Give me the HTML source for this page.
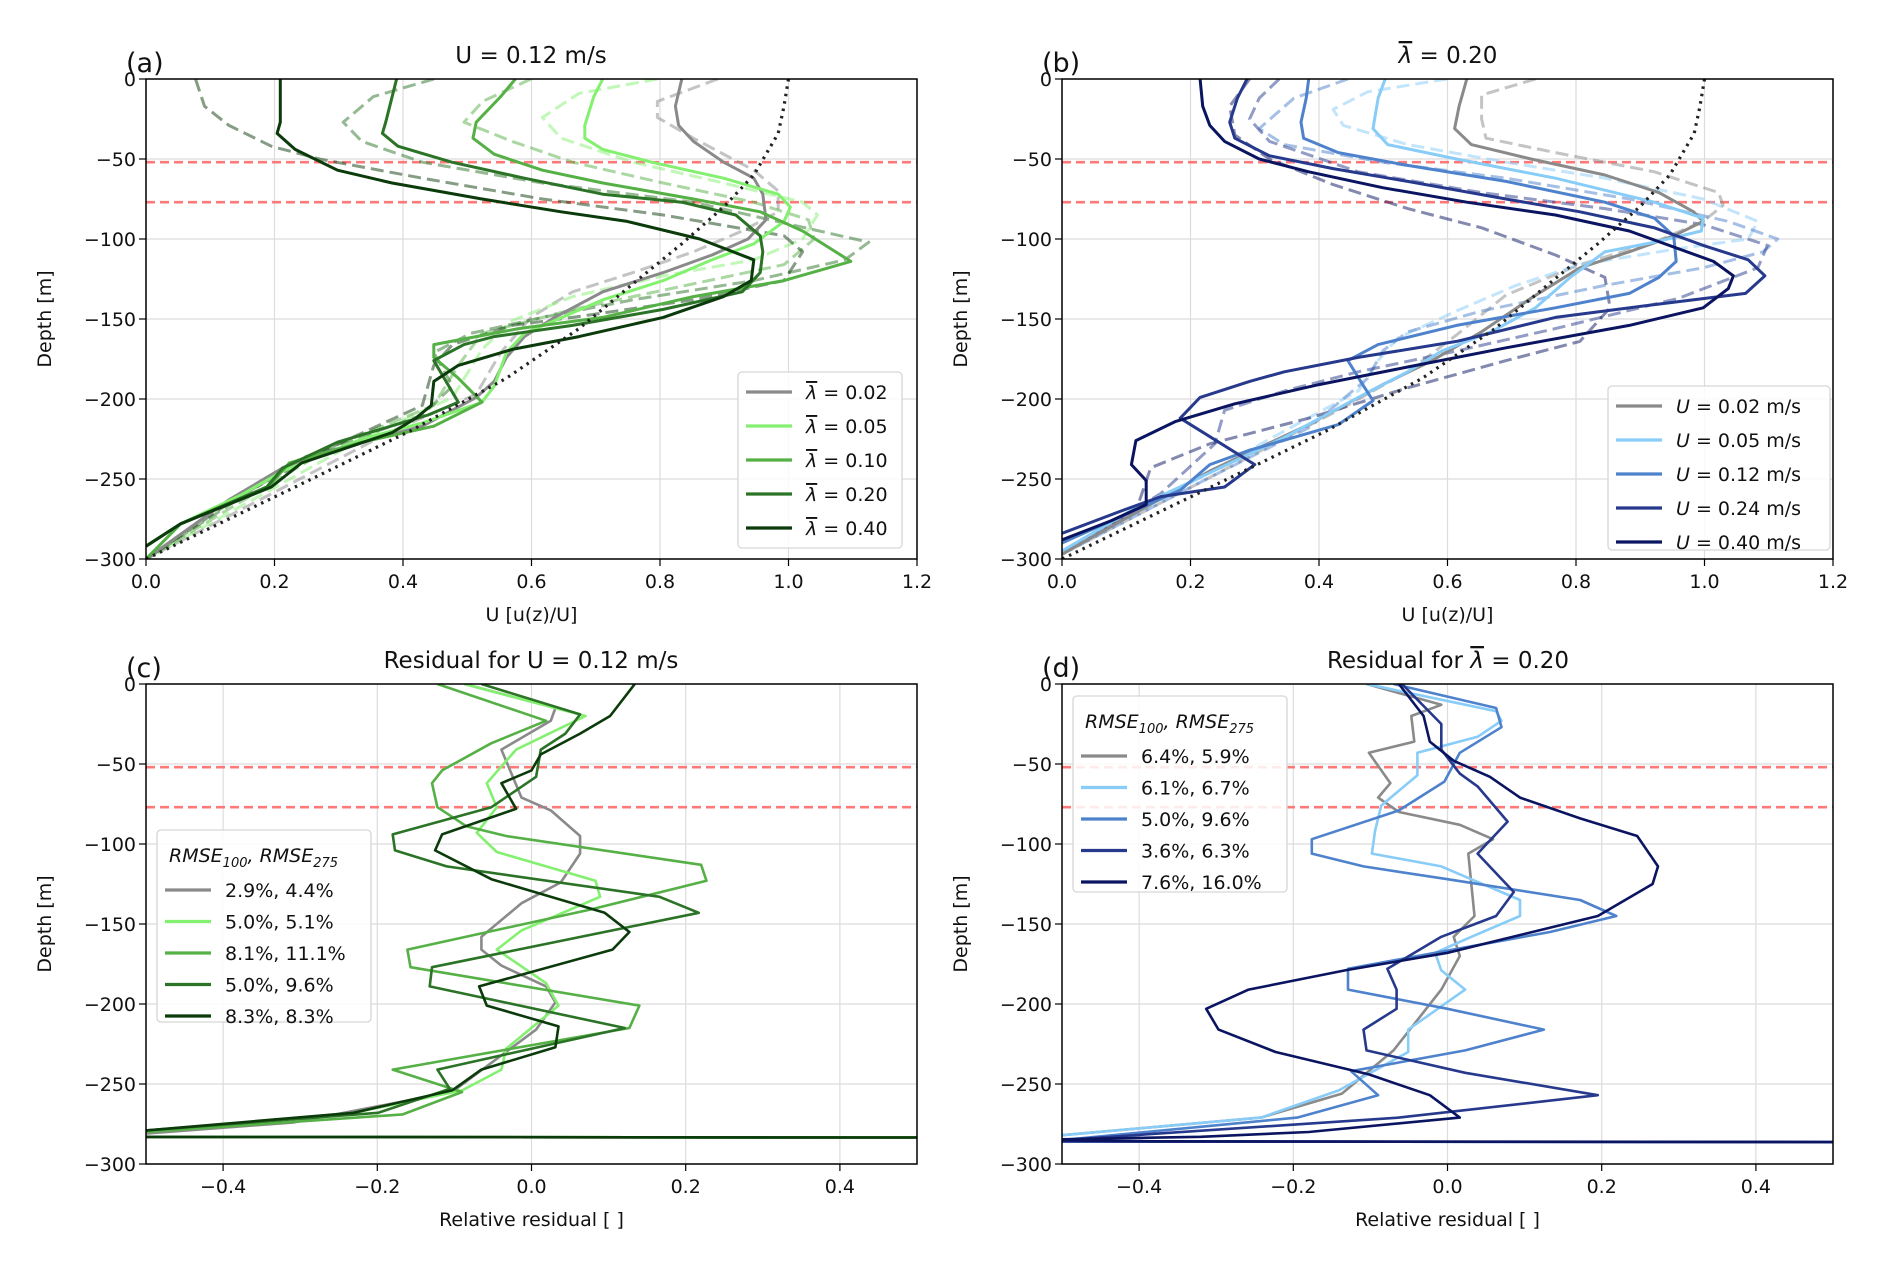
<!DOCTYPE html>
<html><head><meta charset="utf-8"><style>
html,body{margin:0;padding:0;background:#fff;}
svg{display:block;font-family:"DejaVu Sans","Liberation Sans",sans-serif;}
</style></head><body>
<svg id="fig" width="1892" height="1274" viewBox="0 0 1892 1274"></svg>
<script>
// ---------- DATA ----------
const aLabels = ["0.02","0.05","0.10","0.20","0.40"];
const aSolid002 = [[0.834,0],[0.824,-17],[0.829,-29],[0.852,-39],[0.899,-52],[0.946,-62],[0.96,-72],[0.965,-88],[0.937,-100],[0.881,-110],[0.805,-121],[0.711,-133],[0.636,-149],[0.589,-161],[0.561,-174],[0.542,-189],[0.514,-199],[0.43,-217],[0.289,-232],[0.213,-243],[0.129,-263],[0,-300]];
const aSolid005 = [[0.711,0],[0.697,-11],[0.683,-29],[0.683,-37],[0.711,-44],[0.787,-52],[0.899,-62],[0.984,-72],[1.003,-80],[0.993,-89],[0.946,-103],[0.881,-113],[0.805,-126],[0.711,-138],[0.636,-151],[0.589,-159],[0.561,-171],[0.542,-192],[0.523,-202],[0.43,-215],[0.336,-225],[0.213,-245],[0.148,-260],[0.054,-278],[0,-292]];
const aSolid010 = [[0.575,0],[0.552,-11],[0.514,-27],[0.509,-37],[0.542,-47],[0.617,-57],[0.711,-65],[0.852,-75],[0.956,-83],[1.022,-95],[1.097,-114],[0.993,-126],[0.852,-136],[0.711,-149],[0.58,-156],[0.448,-166],[0.448,-174],[0.486,-187],[0.523,-202],[0.448,-217],[0.336,-227],[0.223,-240],[0.19,-255],[0.054,-278],[0,-300]];
const aSolid020 = [[0.39,0],[0.373,-27],[0.368,-34],[0.392,-42],[0.476,-52],[0.589,-62],[0.711,-72],[0.834,-77],[0.918,-85],[0.956,-98],[0.96,-108],[0.956,-121],[0.928,-133],[0.805,-144],[0.664,-154],[0.542,-161],[0.495,-166],[0.448,-176],[0.486,-202],[0.439,-210],[0.298,-227],[0.213,-243],[0.188,-255],[0.054,-278],[0,-292]];
const aSolid040 = [[0.209,0],[0.209,-27],[0.204,-34],[0.232,-44],[0.298,-57],[0.383,-65],[0.523,-75],[0.646,-83],[0.749,-89],[0.862,-100],[0.946,-113],[0.942,-126],[0.899,-136],[0.805,-149],[0.674,-161],[0.57,-169],[0.486,-179],[0.448,-189],[0.444,-204],[0.42,-212],[0.383,-221],[0.242,-240],[0.195,-255],[0.054,-278],[0,-292]];
const aDash002 = [[0.89,0],[0.796,-14],[0.796,-24],[0.852,-37],[0.946,-57],[0.984,-70],[0.984,-83],[0.928,-95],[0.852,-108],[0.758,-121],[0.664,-133],[0.599,-149],[0.552,-171],[0.514,-197],[0.383,-220],[0,-300]];
const aDash005 = [[0.796,0],[0.674,-9],[0.617,-24],[0.646,-37],[0.758,-52],[0.899,-65],[1.022,-77],[1.045,-85],[1.022,-100],[0.946,-113],[0.805,-123],[0.664,-136],[0.57,-151],[0.523,-169],[0.477,-199],[0.336,-225],[0,-300]];
const aDash010 = [[0.599,0],[0.524,-14],[0.495,-27],[0.57,-39],[0.664,-52],[0.805,-65],[0.946,-77],[1.031,-88],[1.04,-100],[0.993,-116],[0.852,-128],[0.664,-144],[0.523,-159],[0.486,-179],[0.448,-204],[0.289,-230],[0,-300]];
const aDash020 = [[0.448,0],[0.354,-11],[0.307,-27],[0.336,-39],[0.43,-52],[0.617,-65],[0.852,-77],[0.993,-90],[1.125,-102],[1.088,-113],[0.946,-126],[0.758,-138],[0.617,-149],[0.505,-159],[0.448,-171],[0.477,-192],[0.43,-210],[0.242,-237],[0,-300]];
const aDash040 = [[0.077,0],[0.091,-17],[0.129,-29],[0.195,-42],[0.27,-50],[0.43,-62],[0.617,-75],[0.805,-85],[0.993,-98],[1.022,-108],[0.993,-126],[0.852,-138],[0.664,-149],[0.57,-154],[0.477,-166],[0.448,-179],[0.43,-204],[0.289,-230],[0.148,-260],[0,-300]];
const theory = [[1.0,0],[0.993,-17],[0.984,-34],[0.946,-60],[0.899,-80],[0.834,-103],[0.758,-128],[0.674,-156],[0.561,-187],[0.411,-220],[0.232,-255],[0,-300]];

const bLabels = ["0.02","0.05","0.12","0.24","0.40"];
const bSolid002 = [[0.63,0],[0.618,-17],[0.611,-31],[0.637,-41],[0.73,-50],[0.845,-60],[0.929,-71],[0.983,-83],[0.998,-89],[0.952,-98],[0.883,-108],[0.806,-118],[0.73,-137],[0.653,-158],[0.576,-176],[0.499,-191],[0.384,-216],[0.23,-245],[0,-297]];
const bSolid005 = [[0.503,0],[0.492,-12],[0.484,-31],[0.507,-41],[0.614,-50],[0.768,-62],[0.922,-77],[0.998,-87],[0.995,-95],[0.922,-102],[0.845,-108],[0.791,-124],[0.737,-143],[0.668,-158],[0.591,-170],[0.538,-183],[0.461,-199],[0.346,-224],[0.215,-249],[0.115,-268],[0,-295]];
const bSolid012 = [[0.384,0],[0.38,-12],[0.372,-27],[0.376,-37],[0.43,-46],[0.538,-54],[0.691,-64],[0.845,-77],[0.922,-87],[0.952,-98],[0.956,-114],[0.929,-124],[0.883,-134],[0.768,-143],[0.614,-154],[0.492,-166],[0.445,-176],[0.468,-191],[0.484,-201],[0.43,-216],[0.292,-232],[0.23,-241],[0.184,-257],[0.077,-276],[0,-290]];
const bSolid024 = [[0.288,0],[0.273,-12],[0.261,-27],[0.269,-37],[0.323,-48],[0.422,-56],[0.538,-64],[0.691,-75],[0.806,-83],[0.922,-93],[0.998,-104],[1.068,-113],[1.094,-123],[1.064,-134],[0.922,-141],[0.768,-149],[0.614,-164],[0.461,-174],[0.346,-183],[0.292,-189],[0.215,-199],[0.184,-212],[0.3,-241],[0.253,-255],[0.154,-261],[0.092,-270],[0,-284]];
const bSolid040 = [[0.215,0],[0.219,-17],[0.23,-29],[0.253,-39],[0.307,-50],[0.384,-58],[0.5,-68],[0.63,-77],[0.768,-85],[0.883,-95],[1.014,-114],[1.045,-123],[1.037,-131],[0.998,-143],[0.883,-154],[0.691,-168],[0.538,-180],[0.4,-191],[0.269,-203],[0.177,-214],[0.115,-226],[0.108,-241],[0.131,-251],[0.131,-266],[0.077,-276],[0,-288]];
const bDash002 = [[0.737,0],[0.653,-10],[0.653,-25],[0.66,-37],[0.768,-46],[0.922,-58],[1.022,-71],[1.029,-79],[0.998,-89],[0.922,-102],[0.806,-116],[0.691,-135],[0.614,-160],[0.538,-183],[0.43,-207],[0.23,-249],[0,-297]];
const bDash005 = [[0.599,0],[0.476,-8],[0.422,-19],[0.438,-29],[0.538,-41],[0.691,-52],[0.845,-62],[0.998,-75],[1.083,-89],[1.068,-100],[0.96,-106],[0.806,-116],[0.707,-129],[0.614,-145],[0.522,-162],[0.492,-176],[0.461,-195],[0.346,-220],[0,-297]];
const bDash012 = [[0.445,0],[0.361,-12],[0.307,-31],[0.346,-41],[0.499,-52],[0.691,-62],[0.883,-75],[1.037,-89],[1.114,-100],[1.091,-108],[0.998,-118],[0.845,-129],[0.653,-145],[0.538,-158],[0.499,-170],[0.476,-187],[0.384,-218],[0.23,-249],[0,-297]];
const bDash024 = [[0.338,0],[0.307,-12],[0.292,-25],[0.323,-39],[0.461,-58],[0.653,-71],[0.845,-81],[0.998,-91],[1.098,-104],[1.083,-118],[0.96,-137],[0.768,-156],[0.614,-170],[0.461,-183],[0.346,-195],[0.253,-207],[0.238,-228],[0.154,-259],[0,-297]];
const bDash040 = [[0.292,0],[0.261,-17],[0.269,-35],[0.323,-50],[0.422,-66],[0.538,-81],[0.653,-93],[0.768,-110],[0.845,-124],[0.853,-143],[0.806,-164],[0.691,-176],[0.538,-193],[0.384,-212],[0.23,-228],[0.138,-243],[0.115,-270],[0,-297]];

const cLabels = ["2.9%, 4.4%","5.0%, 5.1%","8.1%, 11.1%","5.0%, 9.6%","8.3%, 8.3%"];
const cRes002 = [[-0.087,0],[0.031,-15],[0.025,-23],[-0.039,-41],[-0.013,-71],[0.025,-79],[0.063,-95],[0.063,-106],[0.038,-124],[-0.013,-137],[-0.065,-158],[-0.065,-166],[-0.039,-176],[0.019,-189],[0.031,-199],[0.006,-216],[-0.103,-255],[-0.308,-274],[-0.5,-281],[-0.7,-283],[2.0,-284]];
const cRes005 = [[-0.087,0],[0.07,-20],[-0.02,-41],[-0.058,-62],[-0.045,-77],[-0.071,-93],[-0.045,-105],[0.083,-123],[0.089,-133],[-0.013,-154],[-0.045,-166],[0.019,-187],[0.035,-201],[-0.033,-228],[-0.039,-241],[-0.09,-254],[-0.231,-268],[-0.5,-280],[-0.7,-283],[2.0,-284]];
const cRes010 = [[-0.122,0],[0.019,-23],[-0.052,-37],[-0.116,-54],[-0.129,-62],[-0.122,-77],[-0.084,-89],[-0.033,-95],[0.22,-113],[0.227,-123],[0.076,-141],[-0.161,-166],[-0.157,-177],[0.14,-201],[0.127,-215],[-0.18,-241],[-0.09,-255],[-0.167,-269],[-0.5,-280],[-0.7,-283],[2.0,-284]];
const cRes020 = [[-0.065,0],[0.063,-19],[0.044,-31],[0.012,-41],[0.006,-58],[-0.052,-77],[-0.18,-94],[-0.177,-104],[-0.11,-114],[0.166,-133],[0.217,-143],[-0.129,-177],[-0.132,-189],[0.121,-215],[-0.122,-241],[-0.106,-253],[-0.199,-268],[-0.5,-279],[-0.7,-283],[2.0,-284]];
const cRes040 = [[0.134,0],[0.102,-20],[0.063,-31],[0.012,-44],[0,-54],[-0.039,-62],[-0.02,-78],[-0.116,-94],[-0.125,-104],[-0.052,-122],[0.095,-143],[0.127,-155],[0.105,-166],[-0.068,-189],[-0.058,-201],[0.035,-214],[0.031,-227],[-0.065,-241],[-0.103,-254],[-0.231,-268],[-0.5,-279],[-0.7,-283],[2.0,-284]];

const dLabels = ["6.4%, 5.9%","6.1%, 6.7%","5.0%, 9.6%","3.6%, 6.3%","7.6%, 16.0%"];
const dRes002 = [[-0.105,0],[-0.008,-13],[-0.047,-20],[-0.043,-36],[-0.102,-43],[-0.074,-62],[-0.09,-71],[-0.063,-80],[0.016,-88],[0.059,-97],[0.027,-106],[0.035,-145],[0.008,-158],[0.016,-170],[-0.008,-191],[-0.07,-229],[-0.137,-256],[-0.242,-271],[-0.5,-282],[-0.7,-285.8],[2.0,-287]];
const dRes005 = [[-0.105,0],[0.063,-17],[0.07,-23],[0.039,-33],[-0.039,-43],[-0.039,-57],[-0.086,-76],[-0.094,-92],[-0.098,-106],[-0.008,-114],[0.094,-135],[0.094,-145],[0.031,-158],[-0.016,-168],[-0.008,-179],[0.023,-191],[-0.051,-216],[-0.051,-230],[-0.141,-254],[-0.242,-271],[-0.5,-282],[-0.7,-285.8],[2.0,-287]];
const dRes012 = [[-0.07,0],[0.063,-15],[0.07,-27],[0.016,-43],[-0.004,-61],[-0.063,-79],[-0.176,-97],[-0.176,-106],[-0.109,-114],[0,-122],[0.172,-135],[0.219,-145],[0.133,-155],[-0.016,-168],[-0.129,-178],[-0.129,-191],[0,-203],[0.125,-216],[0.023,-229],[-0.125,-242],[-0.09,-257],[-0.195,-271],[-0.5,-285],[-0.7,-285.8],[2.0,-287]];
const dRes024 = [[-0.059,0],[-0.008,-25],[-0.008,-41],[0.016,-56],[0.039,-64],[0.078,-86],[0.039,-106],[0.086,-130],[0.063,-145],[-0.008,-158],[-0.078,-178],[-0.066,-191],[-0.066,-203],[-0.109,-216],[-0.105,-229],[0.023,-243],[0.195,-257],[-0.063,-271],[-0.5,-285],[-0.7,-285.8],[2.0,-287]];
const dRes040 = [[-0.063,0],[-0.031,-20],[-0.023,-36],[0.008,-48],[0.055,-58],[0.094,-71],[0.172,-84],[0.246,-95],[0.273,-114],[0.266,-125],[0.195,-145],[0,-168],[-0.133,-179],[-0.258,-191],[-0.313,-203],[-0.297,-216],[-0.223,-230],[-0.102,-244],[-0.023,-257],[0.016,-271],[-0.18,-280],[-0.32,-283],[-0.55,-285],[-0.375,-285.8],[2.0,-287]];

const redLines = [-52, -77];
const depthTicks = [0,-50,-100,-150,-200,-250,-300];
const uTicks = [0,0.2,0.4,0.6,0.8,1.0,1.2];
const rTicks = [-0.4,-0.2,0,0.2,0.4];

// ---------- DRAWING ----------
const NS = "http://www.w3.org/2000/svg";
const svg = document.getElementById('fig');
function el(tag, attrs, parent){ const e=document.createElementNS(NS,tag); for(const k in attrs) e.setAttribute(k,attrs[k]); (parent||svg).appendChild(e); return e; }

const greens = ["#8a8a8a","#84f06f","#55b045","#2b7326","#0b3a0b"];
const blues = ["#8a8a8a","#88ccf8","#4e82cc","#26398c","#0a1460"];

function makePanel(id, box, xmin, xmax, xticks, fmt){
  const [L,T,R,B] = box;
  const sx = v => L + (v - xmin) / (xmax - xmin) * (R - L);
  const sy = d => T + (-d) / 300 * (B - T);
  const g = el('g', {});
  
  
  const cp = el('clipPath', {id:'clip-'+id}, g);
  el('rect',{x:L,y:T,width:R-L,height:B-T},cp);
  xticks.forEach(v => { const l = el('line',{x1:sx(v),x2:sx(v),y1:T,y2:B,stroke:'#dcdcdc','stroke-width':1.2},g);
      });
  depthTicks.forEach(d => { const l = el('line',{x1:L,x2:R,y1:sy(d),y2:sy(d),stroke:'#dcdcdc','stroke-width':1.2},g);
      });
  xticks.forEach(v => {
    el('line',{x1:sx(v),x2:sx(v),y1:B,y2:B+7,stroke:'#000','stroke-width':1.2},g);
    const t = el('text',{x:sx(v),y:B+29,'text-anchor':'middle','font-size':19,fill:'#111'},g);
    t.textContent = fmt(v);
     
  });
  depthTicks.forEach(d => {
    el('line',{x1:L-7,x2:L,y1:sy(d),y2:sy(d),stroke:'#000','stroke-width':1.2},g);
    const t = el('text',{x:L-10,y:sy(d)+7,'text-anchor':'end','font-size':19,fill:'#111'},g);
    t.textContent = d === 0 ? '0' : '\u2212' + Math.abs(d);
     
  });
  const plot = el('g',{'clip-path':'url(#clip-'+id+')'},g);
  redLines.forEach(d => { const l = el('line',{x1:L,x2:R,y1:sy(d),y2:sy(d),stroke:'#ff6b6b','stroke-width':2.6,'stroke-dasharray':'9,5',opacity:0.9},plot);
      });
  return {g, plot, sx, sy, L, T, R, B};
}
function drawSeries(p, data, color, opts, name){
  const pts = data.map(([v,d]) => p.sx(v).toFixed(1)+','+p.sy(d).toFixed(1)).join(' ');
  const a = {points:pts, fill:'none', stroke:color, 'stroke-width':opts.w||3, 'stroke-linejoin':'round', 'stroke-linecap':'butt'};
  if(opts.dash) a['stroke-dasharray'] = opts.dash;
  if(opts.op) a['opacity'] = opts.op;
  const pl = el('polyline', a, p.plot);
  
  
}
function frame(p){ const r = el('rect',{x:p.L,y:p.T,width:p.R-p.L,height:p.B-p.T,fill:'none',stroke:'#000','stroke-width':1.5},p.g);
    }
function texts(p, title, tag, xlabel, cx){
  const t = el('text',{x:cx,y:p.T-16,'text-anchor':'middle','font-size':23,fill:'#111'},p.g);
  t.innerHTML = title;
   
  const tg = el('text',{x:p.L-20,y:p.T-7,'font-size':27,fill:'#111'},p.g);
  tg.textContent = tag;
   
  const xl = el('text',{x:(p.L+p.R)/2,y:p.B+62,'text-anchor':'middle','font-size':19,fill:'#111'},p.g);
  xl.textContent = xlabel;
   
  const yx = p.L-95, yy = (p.T+p.B)/2;
  const yl = el('text',{x:yx,y:yy,'text-anchor':'middle','font-size':19,fill:'#111',transform:'rotate(-90 '+yx+' '+yy+')'},p.g);
  yl.textContent = 'Depth [m]';
   
}
function legend(p, box, title, labels, colors, labelFn){
  const [x,y,w,h] = box;
  const lg = el('g',{},p.g);
   
  el('rect',{x:x,y:y,width:w,height:h,rx:4,fill:'#fff','fill-opacity':0.85,stroke:'#d6d6d6','stroke-width':1.3},lg);
  let y0 = y + 20;
  if(title){
    const tt = el('text',{x:x+12,y:y+32,'font-size':19,'font-style':'italic',fill:'#111'},lg);
    tt.innerHTML = 'RMSE<tspan font-size="13" dy="5">100</tspan><tspan dy="-5">, RMSE</tspan><tspan font-size="13" dy="5">275</tspan>';
     
    y0 = y + 60;
  }
  labels.forEach((lab,i) => {
    const yy = y0 + i*(title?31.5:34);
    const ln = el('line',{x1:x+8,x2:x+54,y1:yy,y2:yy,stroke:colors[i],'stroke-width':3.2},lg);
     
    const t = el('text',{x:x+68,y:yy+7,'font-size':19,fill:'#111'},lg);
    t.innerHTML = labelFn(lab);
     
  });
}

const f1 = v => v.toFixed(1);
const fr = v => (v<0?'\u2212':'') + Math.abs(v).toFixed(1);
const lam = '<tspan font-style="italic" text-decoration="overline">\u03bb</tspan>';

// (a)
const pa = makePanel('a',[146,79,917,559],0,1.2,uTicks,f1);
[aDash002,aDash005,aDash010,aDash020,aDash040].forEach((s,i)=>drawSeries(pa,s,greens[i],{dash:'13,6',op:0.5},'dashed-profile-'+aLabels[i]));
[aSolid002,aSolid005,aSolid010,aSolid020,aSolid040].forEach((s,i)=>drawSeries(pa,s,greens[i],{},'profile-lambda-'+aLabels[i]));
drawSeries(pa,theory,'#222',{dash:'2.5,5',w:3.2},'theory-profile');
frame(pa); texts(pa,'U = 0.12 m/s','(a)','U [u(z)/U]',531);
legend(pa,[738,372,164,176],null,aLabels,greens,l=>lam+' = '+l);

// (b)
const pb = makePanel('b',[1062,79,1833,559],0,1.2,uTicks,f1);
[bDash002,bDash005,bDash012,bDash024,bDash040].forEach((s,i)=>drawSeries(pb,s,blues[i],{dash:'13,6',op:0.5},'dashed-profile-'+bLabels[i]));
[bSolid002,bSolid005,bSolid012,bSolid024,bSolid040].forEach((s,i)=>drawSeries(pb,s,blues[i],{},'profile-U-'+bLabels[i]));
drawSeries(pb,theory,'#222',{dash:'2.5,5',w:3.2},'theory-profile');
frame(pb); texts(pb,lam+' = 0.20','(b)','U [u(z)/U]',1448);
legend(pb,[1608,386,222,164],null,bLabels,blues,l=>'<tspan font-style="italic">U</tspan> = '+l+' m/s');

// (c)
const pc = makePanel('c',[146,684,917,1164],-0.5,0.5,rTicks,fr);
[cRes002,cRes005,cRes010,cRes020,cRes040].forEach((s,i)=>drawSeries(pc,s,greens[i],{w:2.6},'residual-'+aLabels[i]));
frame(pc); texts(pc,'Residual for U = 0.12 m/s','(c)','Relative residual [ ]',531);
legend(pc,[157,830,214,192],true,cLabels,greens,l=>l);

// (d)
const pd = makePanel('d',[1062,684,1833,1164],-0.5,0.5,rTicks,fr);
[dRes002,dRes005,dRes012,dRes024,dRes040].forEach((s,i)=>drawSeries(pd,s,blues[i],{w:2.6},'residual-'+bLabels[i]));
frame(pd); texts(pd,'Residual for '+lam+' = 0.20','(d)','Relative residual [ ]',1448);
legend(pd,[1073,696,214,196],true,dLabels,blues,l=>l);
</script>
</body></html>
